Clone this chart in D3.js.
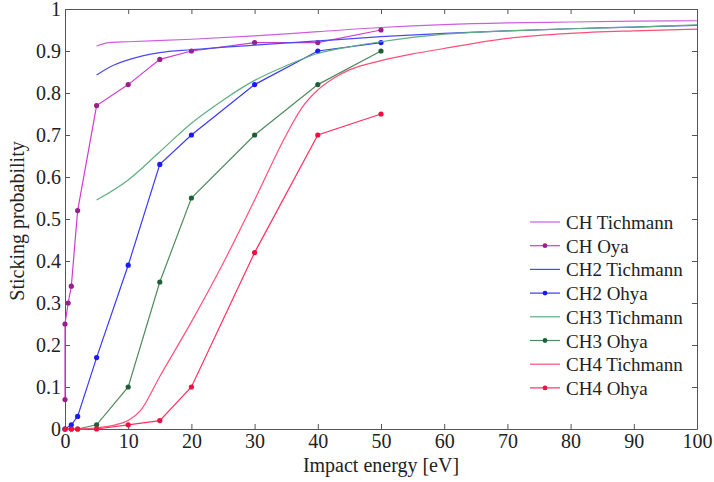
<!DOCTYPE html>
<html>
<head>
<meta charset="utf-8">
<script src="https://cdn.jsdelivr.net/npm/d3@7"></script>
<style>
body { margin: 0; background: #fff; }
text { font-family: "Liberation Serif", "DejaVu Serif", serif; fill: #222; }
</style>
</head>
<body>
<div id="chart"></div>
<script>
// sticking probability vs impact energy
var chTichmann = [[5,0.912],[7,0.92],[10,0.922],[20,0.928],[30,0.936],[40,0.946],[50,0.956],[60,0.963],[70,0.967],[80,0.969],[90,0.971],[100,0.972]];
var chOya = [[0,0.07],[0,0.25],[0.5,0.30],[1,0.34],[2,0.52],[5,0.77],[10,0.82],[15,0.88],[20,0.90],[30,0.92],[40,0.92],[50,0.95]];
var ch2Tichmann = [[5,0.843],[7.5,0.865],[10,0.879],[15,0.896],[20,0.903],[30,0.914],[40,0.924],[50,0.934],[60,0.942],[70,0.948],[80,0.953],[90,0.957],[100,0.961]];
var ch2Ohya = [[0,0],[1,0.01],[2,0.03],[5,0.17],[10,0.39],[15,0.63],[20,0.70],[30,0.82],[40,0.90],[50,0.92]];
var ch3Tichmann = [[5,0.545],[10,0.593],[15,0.66],[20,0.728],[25,0.783],[30,0.83],[35,0.865],[40,0.894],[45,0.91],[50,0.922],[60,0.94],[70,0.948],[80,0.953],[90,0.957],[100,0.962]];
var ch3Ohya = [[0,0],[1,0],[2,0],[5,0.01],[10,0.10],[15,0.35],[20,0.55],[30,0.70],[40,0.82],[50,0.90]];
var ch4Tichmann = [[0,0],[2,0],[5,0.003],[8,0.01],[10,0.02],[12,0.045],[15,0.125],[20,0.255],[25,0.394],[30,0.545],[35,0.70],[37.5,0.765],[40,0.807],[42.5,0.835],[45,0.855],[50,0.877],[55,0.893],[60,0.906],[70,0.93],[80,0.942],[90,0.948],[100,0.952]];
var ch4Ohya = [[0,0],[1,0],[2,0],[5,0],[10,0.01],[15,0.02],[20,0.10],[30,0.42],[40,0.70],[50,0.75]];

var xTicks = [0,10,20,30,40,50,60,70,80,90,100];
var yTicks = [0,0.1,0.2,0.3,0.4,0.5,0.6,0.7,0.8,0.9,1];
var yTickLabels = ["0","0.1","0.2","0.3","0.4","0.5","0.6","0.7","0.8","0.9","1"];

var series = [
	{name: "CH Tichmann", data: chTichmann, line: "#cc5fdd", smooth: true},
	{name: "CH Oya", data: chOya, line: "#d03ccc", dot: "#9a1f8a"},
	{name: "CH2 Tichmann", data: ch2Tichmann, line: "#4a4af0", smooth: true},
	{name: "CH2 Ohya", data: ch2Ohya, line: "#3a3af5", dot: "#1a1aff"},
	{name: "CH3 Tichmann", data: ch3Tichmann, line: "#5fae80", smooth: true},
	{name: "CH3 Ohya", data: ch3Ohya, line: "#4f8a5c", dot: "#1f5f35"},
	{name: "CH4 Tichmann", data: ch4Tichmann, line: "#ff4f78", smooth: true},
	{name: "CH4 Ohya", data: ch4Ohya, line: "#ff3060", dot: "#ee1040"}
];

var width = 714, height = 482;
var plotLeft = 65, plotRight = 697, plotTop = 9, plotBottom = 429;

var x = d3.scaleLinear().domain([0, 100]).range([plotLeft, plotRight]);
var y = d3.scaleLinear().domain([0, 1]).range([plotBottom, plotTop]);

var svg = d3.select("#chart").append("svg")
	.attr("width", width)
	.attr("height", height);

// frame with inward ticks on all four sides
var axisColor = "#555";
function styleAxis(g) {
	g.select(".domain").attr("stroke", axisColor);
	g.selectAll("line").attr("stroke", axisColor);
	g.selectAll("text").attr("font-size", 20).attr("fill", "#222")
		.attr("font-family", "Liberation Serif, serif");
}
svg.append("g")
	.attr("transform", "translate(0," + plotBottom + ")")
	.call(d3.axisBottom(x).tickValues(xTicks).tickSizeInner(-5).tickSizeOuter(0).tickPadding(5))
	.call(styleAxis);
svg.append("g")
	.attr("transform", "translate(0," + plotTop + ")")
	.call(d3.axisTop(x).tickValues(xTicks).tickSizeInner(-5).tickSizeOuter(0).tickFormat(""))
	.call(styleAxis);
svg.append("g")
	.attr("transform", "translate(" + plotLeft + ",0)")
	.call(d3.axisLeft(y).tickValues(yTicks).tickSizeInner(-5).tickSizeOuter(0).tickPadding(4)
		.tickFormat(function(d, i) { return yTickLabels[i]; }))
	.call(styleAxis);
svg.append("g")
	.attr("transform", "translate(" + plotRight + ",0)")
	.call(d3.axisRight(y).tickValues(yTicks).tickSizeInner(-5).tickSizeOuter(0).tickFormat(""))
	.call(styleAxis);

var smoothLine = d3.line()
	.x(function(d) { return x(d[0]); })
	.y(function(d) { return y(d[1]); })
	.curve(d3.curveMonotoneX);
var straightLine = d3.line()
	.x(function(d) { return x(d[0]); })
	.y(function(d) { return y(d[1]); });

series.forEach(function(s) {
	svg.append("path")
		.attr("d", s.smooth ? smoothLine(s.data) : straightLine(s.data))
		.attr("fill", "none")
		.attr("stroke", s.line)
		.attr("stroke-width", 1.2);
	if (s.dot) {
		svg.selectAll(null)
			.data(s.data)
			.enter().append("circle")
			.attr("cx", function(d) { return x(d[0]); })
			.attr("cy", function(d) { return y(d[1]); })
			.attr("r", 2.6)
			.attr("fill", s.dot);
	}
});

// axis titles
svg.append("text")
	.attr("x", (plotLeft + plotRight) / 2)
	.attr("y", 472)
	.attr("text-anchor", "middle")
	.attr("font-size", 20)
	.text("Impact energy [eV]");
svg.append("text")
	.attr("transform", "translate(24,221) rotate(-90)")
	.attr("text-anchor", "middle")
	.attr("font-size", 20)
	.text("Sticking probability");

// legend, no box
var legend = svg.append("g");
series.forEach(function(s, i) {
	var ly = 222 + i * 23.7;
	legend.append("line")
		.attr("x1", 530).attr("x2", 560)
		.attr("y1", ly).attr("y2", ly)
		.attr("stroke", s.line)
		.attr("stroke-width", 1.2);
	if (s.dot) {
		legend.append("circle")
			.attr("cx", 545).attr("cy", ly)
			.attr("r", 2.4)
			.attr("fill", s.dot);
	}
	legend.append("text")
		.attr("x", 566)
		.attr("y", ly + 7)
		.attr("font-size", 19)
		.text(s.name);
});
</script>
</body>
</html>
